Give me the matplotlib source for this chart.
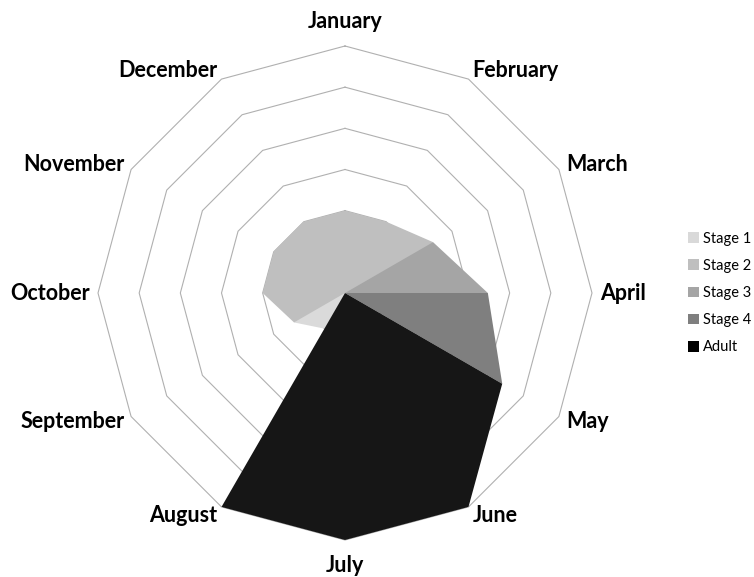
import numpy as np
import matplotlib
matplotlib.use("Agg")
import matplotlib.pyplot as plt
from matplotlib.patches import Patch

months = ["January", "February", "March", "April", "May", "June",
          "July", "August", "September", "October", "November", "December"]
series_names = ["Stage 1", "Stage 2", "Stage 3", "Stage 4", "Adult"]
stage1 = [0.0, 0.0, 0.0, 0.0, 0.0, 0.0, 0.5, 1.0, 1.43, 1.2, 0.5, 0.0]
stage2 = [2.0, 2.0, 2.47, 1.5, 0.0, 0.0, 0.0, 0.0, 1.43, 2.0, 2.0, 2.0]
stage3 = [0.0, 0.0, 2.47, 3.47, 0.0, 0.0, 0.0, 0.0, 0.0, 0.0, 0.0, 0.0]
stage4 = [0.0, 0.0, 0.0, 3.47, 4.41, 0.0, 0.0, 0.0, 0.0, 0.0, 0.0, 0.0]
adult = [0.0, 0.0, 0.0, 0.0, 4.41, 6.0, 6.0, 6.0, 0.0, 0.0, 0.0, 0.0]
grid_levels = [1, 2, 3, 4, 5, 6]
r_max = 6

colors = ["#dadada", "#bfbfbf", "#a5a5a5", "#7f7f7f", "#161616"]
legend_colors = ["#d9d9d9", "#bfbfbf", "#a5a5a5", "#7f7f7f", "#000000"]

W, H = 754, 577
fig = plt.figure(figsize=(W / 100, H / 100), dpi=100)
cx, cy, R = 345, 293, 247
ax = fig.add_axes([(cx - R) / W, (H - cy - R) / H, 2 * R / W, 2 * R / H],
                  projection="polar")
ax.set_theta_offset(np.pi / 2)
ax.set_theta_direction(-1)
ax.set_ylim(0, r_max)
ax.grid(False)
ax.set_xticks([])
ax.set_yticks([])
ax.spines["polar"].set_visible(False)
ax.patch.set_visible(False)

n = len(months)
theta = np.arange(n) * 2 * np.pi / n
theta_c = np.append(theta, theta[0])

for lvl in grid_levels:
    ax.plot(theta_c, [lvl] * (n + 1), color="#b0b0b0", lw=0.8, zorder=1,
            clip_on=False)

for vals, col in zip([stage1, stage2, stage3, stage4, adult], colors):
    v = np.append(vals, vals[0])
    ax.fill(theta_c, v, color=col, lw=0, zorder=2, antialiased=True)

for m, t in zip(months, theta):
    s, c = np.sin(t), np.cos(t)
    if abs(s) < 0.1:
        ha = "center"
        extra = 15 * np.sign(c)
    else:
        ha = "left" if s > 0 else "right"
        extra = 0
    dx = 8 * s
    dy = 10 * c + extra
    ax.annotate(m, xy=(t, r_max), xytext=(dx, dy), textcoords="offset pixels",
                ha=ha, va="center", fontsize=15.5, fontweight="bold",
                family="Lato", color="#000000", annotation_clip=False)

handles = [Patch(facecolor=c, edgecolor="none", label=l)
           for c, l in zip(legend_colors, series_names)]
leg = fig.legend(handles=handles, loc="center left",
                 bbox_to_anchor=(688 / W, 1 - 293 / H), frameon=False,
                 prop={"family": "Lato", "size": 10.5},
                 handlelength=0.75, handleheight=0.75, handletextpad=0.3,
                 labelspacing=0.9, borderpad=0, borderaxespad=0)

fig.savefig("out.png", dpi=100, facecolor="white")
